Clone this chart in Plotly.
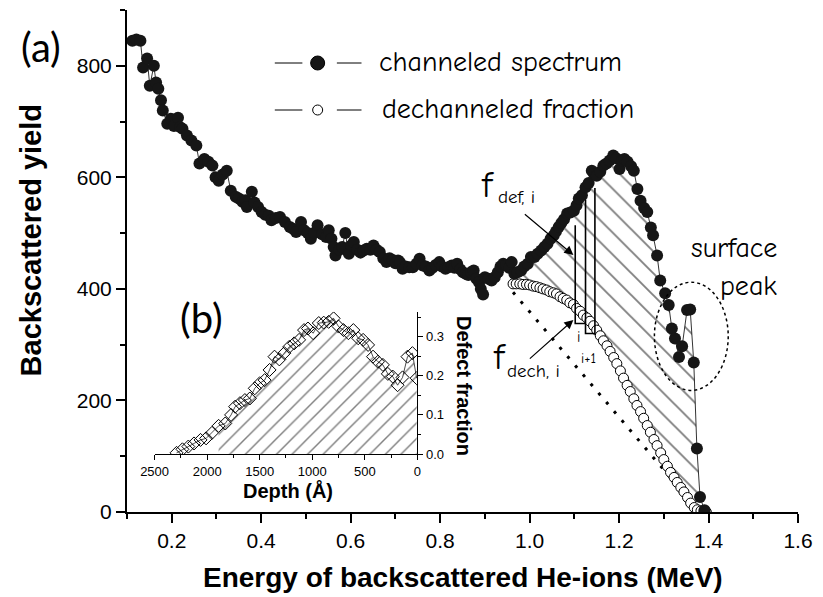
import plotly.graph_objects as go

# ---------------- data ----------------
chan_x = [0.112, 0.121, 0.130, 0.136, 0.145, 0.151, 0.160, 0.165, 0.170, 0.176, 0.180, 0.190, 0.198, 0.205,
          0.214, 0.219, 0.224, 0.234, 0.244, 0.255, 0.262, 0.273, 0.282, 0.291, 0.298, 0.305, 0.314, 0.323,
          0.332, 0.343, 0.350, 0.358, 0.365, 0.368, 0.379, 0.385, 0.393, 0.401, 0.409, 0.417, 0.423, 0.433,
          0.442, 0.453, 0.464, 0.471, 0.478, 0.489, 0.496, 0.504, 0.511, 0.518, 0.526, 0.536, 0.545, 0.551,
          0.557, 0.562, 0.566, 0.575, 0.581, 0.588, 0.596, 0.601, 0.607, 0.615, 0.622, 0.629, 0.636, 0.644,
          0.651, 0.658, 0.665, 0.673, 0.680, 0.687, 0.694, 0.700, 0.706, 0.710, 0.716, 0.723, 0.731, 0.739,
          0.747, 0.754, 0.761, 0.768, 0.776, 0.783, 0.790, 0.798, 0.804, 0.812, 0.819, 0.826, 0.832, 0.838,
          0.845, 0.851, 0.857, 0.863, 0.869, 0.875, 0.881, 0.887, 0.891, 0.896, 0.900, 0.908, 0.915, 0.922,
          0.929, 0.935, 0.941, 0.948, 0.954, 0.960, 0.966, 0.973, 0.981, 0.988, 0.996, 1.003, 1.011, 1.018,
          1.026, 1.033, 1.040, 1.047, 1.054, 1.059, 1.065, 1.071, 1.077, 1.084, 1.091, 1.099, 1.105, 1.110,
          1.117, 1.125, 1.132, 1.139, 1.144, 1.150, 1.158, 1.165, 1.172, 1.179, 1.187, 1.194, 1.201, 1.207,
          1.212, 1.219, 1.227, 1.233, 1.241, 1.248, 1.256, 1.263, 1.271, 1.276, 1.285, 1.292, 1.303, 1.311,
          1.318, 1.325, 1.334, 1.341, 1.352, 1.359, 1.367, 1.374, 1.381, 1.391]
chan_y = [845, 847, 845, 797, 813, 764, 800, 770, 759, 738, 720, 696, 705, 692,
          707, 690, 687, 675, 666, 657, 625, 633, 628, 621, 600, 594, 605, 612,
          576, 565, 562, 556, 559, 547, 574, 555, 547, 538, 533, 531, 523, 527,
          529, 520, 511, 508, 502, 520, 505, 500, 490, 500, 514, 498, 493, 505,
          490, 475, 460, 470, 475, 500, 463, 478, 484, 470, 465, 469, 472, 470,
          478, 470, 466, 455, 448, 455, 452, 446, 451, 448, 436, 440, 439, 439,
          445, 454, 442, 440, 433, 438, 443, 448, 440, 436, 439, 442, 438, 445,
          435, 430, 427, 425, 430, 433, 418, 412, 400, 390, 421, 418, 415, 421,
          430, 440, 445, 443, 438, 448, 427, 430, 433, 440, 445, 457, 457, 463,
          469, 475, 481, 490, 496, 503, 511, 518, 525, 535, 537, 540, 550, 562,
          568, 582, 590, 612, 606, 603, 610, 621, 625, 630, 639, 634, 615, 630,
          633, 628, 620, 612, 579, 558, 545, 538, 510, 496, 460, 415, 392, 371,
          329, 311, 278, 297, 362, 363, 268, 114, 27, 3]

dech_x = [0.963, 0.970, 0.978, 0.985, 0.993, 1.000, 1.008, 1.015, 1.023, 1.030, 1.038, 1.045, 1.053,
          1.060, 1.068, 1.075, 1.083, 1.090, 1.098, 1.105, 1.113, 1.120, 1.128, 1.135, 1.143, 1.150,
          1.158, 1.165, 1.173, 1.180, 1.188, 1.195, 1.203, 1.210, 1.218, 1.225, 1.233, 1.240, 1.248,
          1.255, 1.263, 1.270, 1.278, 1.285, 1.293, 1.300, 1.308, 1.315, 1.323, 1.330, 1.338, 1.345,
          1.353, 1.360, 1.368, 1.375, 1.383, 1.390, 1.395]
dech_y = [409, 409, 409, 408, 408, 407, 405, 404, 402, 400, 398, 395, 393,
          391, 386, 383, 380, 375, 372, 365, 360, 353, 348, 342, 334, 326,
          316, 307, 298, 288, 277, 266, 253, 240, 227, 216, 203, 191, 180,
          168, 155, 143, 130, 119, 106, 94, 82, 71, 62, 53, 44, 36,
          26, 16, 8, 4, 2, 1, 0]

# straight dotted guide line
guide_x = [0.963, 1.380]
guide_y = [394, 0]

# slice bars i, i+1 drawn between the two spectra
bar_x = [1.102, 1.102, 1.125, None, 1.125, 1.125, 1.146, 1.146]
bar_y = [514, 338, 338, None, 560, 320, 320, 581]

# inset (b): defect depth profile
depth = [2291, 2235, 2179, 2125, 2063, 2010, 1954, 1891, 1828, 1772, 1734, 1688, 1641, 1594, 1547,
         1500, 1453, 1406, 1359, 1313, 1266, 1219, 1172, 1125, 1078, 1041, 991, 938, 891, 844, 797,
         750, 703, 656, 609, 563, 516, 469, 422, 375, 328, 281, 234, 188, 141, 94, 47, 7]
defect = [0.003, 0.012, 0.019, 0.027, 0.036, 0.040, 0.054, 0.072, 0.078, 0.100, 0.121, 0.130, 0.138,
          0.142, 0.168, 0.181, 0.189, 0.215, 0.249, 0.242, 0.258, 0.274, 0.283, 0.292, 0.317, 0.321,
          0.309, 0.335, 0.336, 0.338, 0.347, 0.326, 0.317, 0.309, 0.317, 0.296, 0.292, 0.279, 0.249,
          0.236, 0.228, 0.205, 0.198, 0.176, 0.196, 0.249, 0.258, 0.194]

# ---------------- styling ----------------
NARROW = "Liberation Sans Narrow, Arial Narrow, Liberation Sans, Arial, sans-serif"
COMIC = "Comic Sans MS, Comic Neue, Lato, sans-serif"
ROUND = "Lato, Open Sans, sans-serif"

W, H = 823, 597
L, R, T, B = 127, 15, 10, 85
PW, PH = W - L - R, H - T - B


def PX(px):
    return (px - L) / PW


def PY(py):
    return (H - B - py) / PH


fig = go.Figure()

# hatched region between channeled spectrum and dechanneled fraction
hx = [x for x in chan_x if x >= dech_x[0]]
hy = [y for x, y in zip(chan_x, chan_y) if x >= dech_x[0]]
hx = hx + dech_x[::-1]
hy = hy + dech_y[::-1]
fig.add_trace(go.Scatter(x=hx, y=hy, mode="none", fill="toself",
                         fillcolor="rgba(0,0,0,0)",
                         fillpattern=dict(shape="\\", size=15.5, solidity=0.12,
                                          fgcolor="black", bgcolor="rgba(0,0,0,0)"),
                         hoverinfo="skip", showlegend=False))

fig.add_trace(go.Scatter(x=guide_x, y=guide_y, mode="lines",
                         line=dict(color="black", width=3, dash="3px,9px"),
                         showlegend=False))

fig.add_trace(go.Scatter(x=dech_x, y=dech_y, mode="lines+markers",
                         line=dict(color="black", width=0.8),
                         marker=dict(symbol="circle", size=10, color="white",
                                     line=dict(color="black", width=1)),
                         showlegend=False))

fig.add_trace(go.Scatter(x=chan_x, y=chan_y, mode="lines+markers",
                         line=dict(color="black", width=0.8),
                         marker=dict(symbol="circle", size=12, color="#161616",
                                     line=dict(width=0)),
                         showlegend=False))

fig.add_trace(go.Scatter(x=bar_x, y=bar_y, mode="lines",
                         line=dict(color="black", width=1.6),
                         connectgaps=False, showlegend=False))

# inset hatch + data
ix = [d for d in depth if d <= 1891]
iy = [f for d, f in zip(depth, defect) if d <= 1891]
fig.add_trace(go.Scatter(x=ix, y=iy, xaxis="x2", yaxis="y2", mode="none", fill="tozeroy",
                         fillcolor="rgba(0,0,0,0)",
                         fillpattern=dict(shape="/", size=11, solidity=0.13,
                                          fgcolor="black", bgcolor="rgba(0,0,0,0)"),
                         hoverinfo="skip", showlegend=False))
fig.add_trace(go.Scatter(x=depth, y=defect, xaxis="x2", yaxis="y2", mode="lines+markers",
                         line=dict(color="black", width=0.7),
                         marker=dict(symbol="diamond-open", size=10, color="black",
                                     line=dict(width=1)),
                         showlegend=False))

axis_common = dict(showline=True, linecolor="black", showgrid=False, zeroline=False,
                   ticks="outside", tickcolor="black")

fig.update_layout(
    width=W, height=H,
    margin=dict(l=L, r=R, t=T, b=B),
    paper_bgcolor="white", plot_bgcolor="rgba(0,0,0,0)",
    showlegend=False,
    xaxis=dict(axis_common, range=[0.1, 1.6], linewidth=2, tickwidth=2, ticklen=9,
               tick0=0.2, dtick=0.2, tickformat=".1f",
               tickfont=dict(family=NARROW, size=21, color="black"),
               minor=dict(tick0=0.1, dtick=0.1, ticklen=5, tickwidth=1.5, ticks="outside",
                          tickcolor="black")),
    yaxis=dict(axis_common, range=[0, 900], linewidth=2, tickwidth=2, ticklen=9,
               tick0=0, dtick=200,
               tickfont=dict(family=NARROW, size=21, color="black"),
               minor=dict(tick0=0, dtick=100, ticklen=5, tickwidth=1.5, ticks="outside",
                          tickcolor="black")),
    xaxis2=dict(axis_common, domain=[PX(155), PX(421.7)], anchor="y2", range=[2500, 0],
                linewidth=1, tickwidth=1, ticklen=5, dtick=500,
                tickfont=dict(family=NARROW, size=13, color="black"),
                minor=dict(dtick=250, ticklen=3, tickwidth=1, ticks="outside", tickcolor="black")),
    yaxis2=dict(axis_common, domain=[PY(454), PY(311.7)], anchor="x2", side="right",
                range=[0, 0.364], linewidth=1, tickwidth=1, ticklen=5, dtick=0.1,
                tickformat=".1f",
                tickfont=dict(family=NARROW, size=13, color="black"),
                minor=dict(dtick=0.05, ticklen=3, tickwidth=1, ticks="outside", tickcolor="black")),
)

shapes = []
# legend glyphs
for py, filled, d in [(63, True, 14), (110, False, 10)]:
    for a, b in [(277, 305), (340, 365)]:
        shapes.append(dict(type="line", xref="paper", yref="paper",
                           x0=PX(a), x1=PX(b), y0=PY(py), y1=PY(py),
                           line=dict(color="black", width=1)))
    shapes.append(dict(type="circle", xref="paper", yref="paper",
                       xsizemode="pixel", ysizemode="pixel",
                       xanchor=PX(320.5), yanchor=PY(py),
                       x0=-d / 2, x1=d / 2, y0=-d / 2, y1=d / 2,
                       fillcolor="#161616" if filled else "white",
                       line=dict(color="black", width=1)))
# dotted ellipse around surface peak
shapes.append(dict(type="circle", xref="x", yref="y", x0=1.279, x1=1.444, y0=218, y1=412,
                   line=dict(color="black", width=1.5, dash="dot")))
fig.update_layout(shapes=shapes)

ann = []


def text(t, px, py, size, family=COMIC, xanchor="center", angle=0, weight="normal"):
    ann.append(dict(text=t, x=PX(px), y=PY(py), xref="paper", yref="paper",
                    xanchor=xanchor, yanchor="middle", showarrow=False, textangle=angle,
                    font=dict(family=family, size=size, color="black", weight=weight)))


text("(a)", 40, 47, 40, ROUND)
text("(b)", 203, 318, 40, ROUND)
text("channeled spectrum", 381, 62, 28, xanchor="left")
text("dechanneled fraction", 384, 109, 28, xanchor="left")
text("f", 493, 185, 36)
text("def, i", 522, 197, 19)
text("f", 505, 357, 36)
text("dech, i", 540, 371, 19)
text("surface", 789, 248, 28, xanchor="right")
text("peak", 789, 286, 28, xanchor="right")
text("i", 585, 337, 15)
text("i+1", 595, 358, 14)
text("Backscattered yield", 30, 240, 29, NARROW, angle=-90, weight="bold")
text("Energy of backscattered He-ions (MeV)", 468, 578, 28, NARROW, weight="bold")
text("Depth (Å)", 290, 490, 20, NARROW, weight="bold")
text("Defect fraction", 469, 386, 20, NARROW, angle=90, weight="bold")

for hx_, hy_, ax, ay in [(580, 255, -50, -42), (580, 320, -45, 40)]:
    ann.append(dict(x=PX(hx_), y=PY(hy_), xref="paper", yref="paper", text="",
                    showarrow=True, ax=ax, ay=ay, arrowhead=2, arrowsize=1.5,
                    arrowwidth=1.2, arrowcolor="black", standoff=0))

fig.update_layout(annotations=ann)

fig.write_html("out.html")
